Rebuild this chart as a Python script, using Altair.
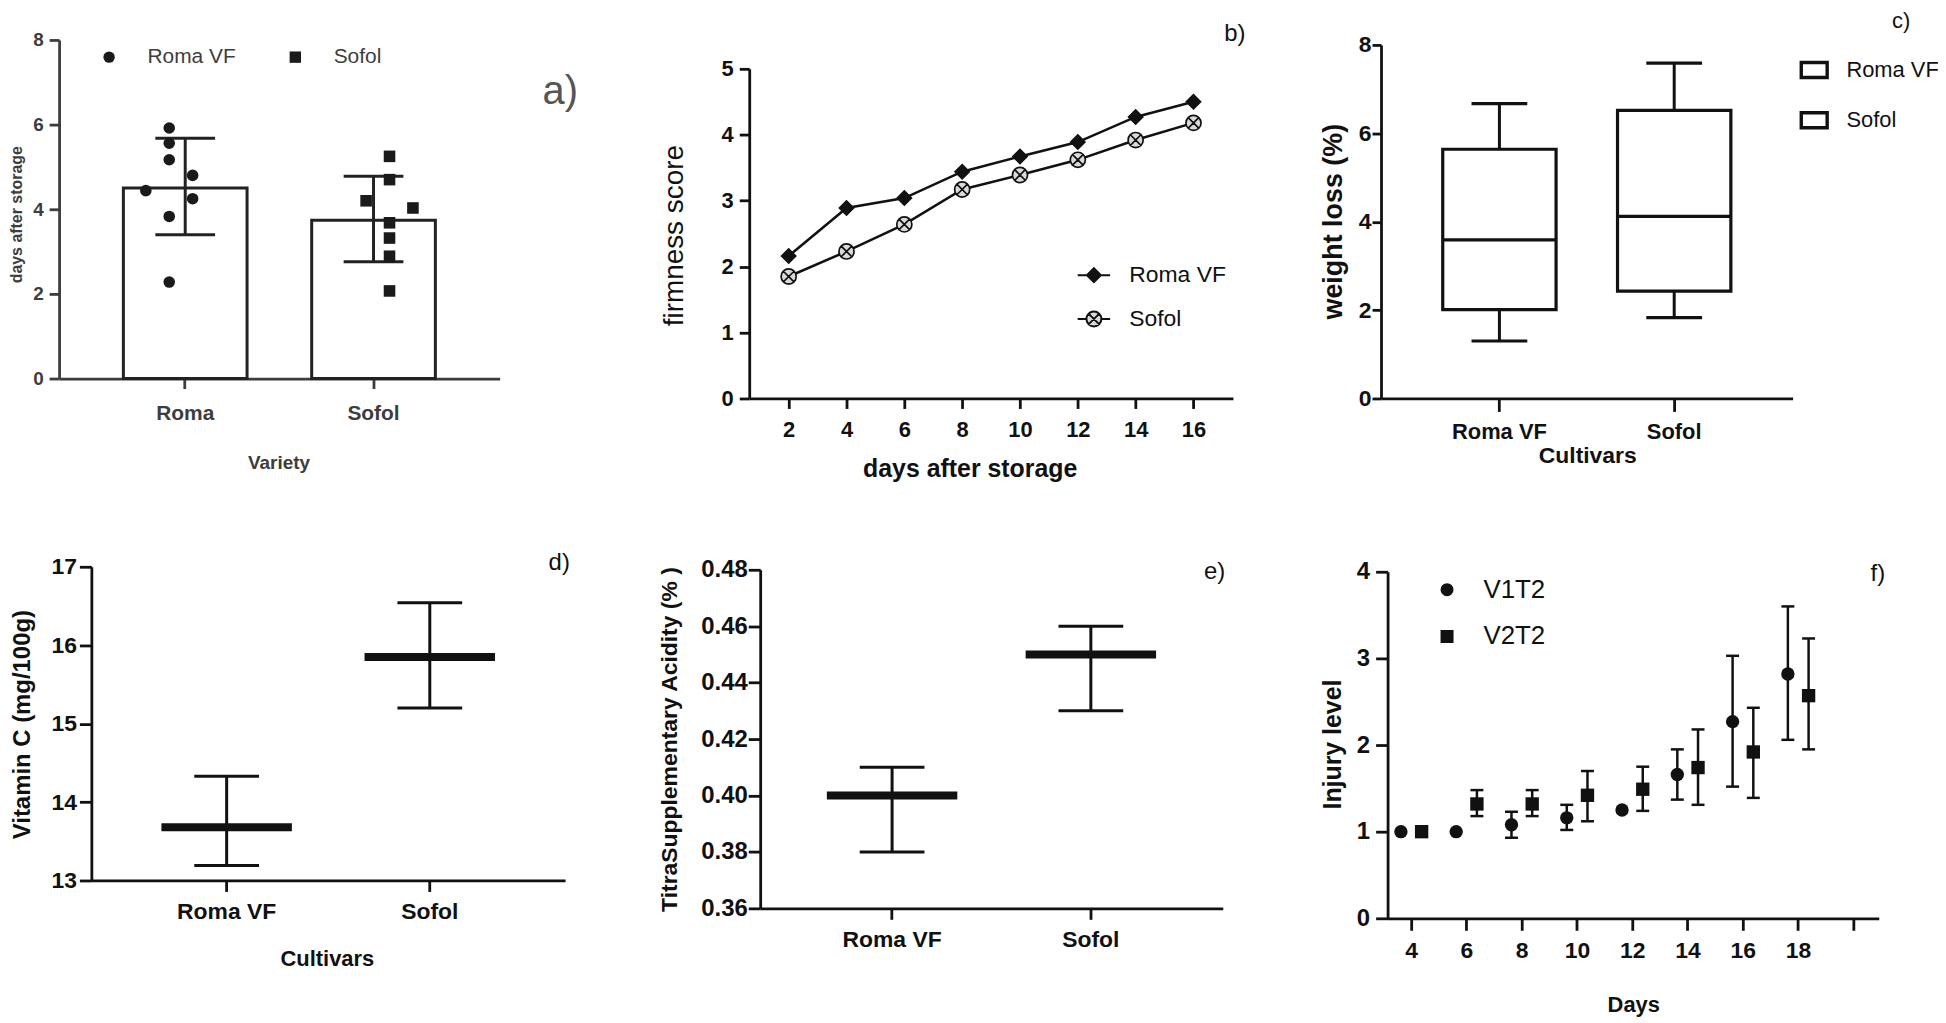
import altair as alt
import pandas as pd

# ---------------- data ----------------
# a) days after storage (bar = mean, error = SD, dots = replicates)
a_variety = ["Roma", "Sofol"]
a_mean = [4.50, 3.74]
a_lo = [3.40, 2.76]
a_hi = [5.68, 4.78]
a_roma_pts = [5.92, 5.56, 5.17, 4.80, 4.44, 4.25, 3.83, 2.28]
a_roma_jit = [0, 0, 0, 1, -1, 1, 0, 0]
a_sofol_pts = [5.25, 4.70, 4.20, 4.03, 3.68, 3.32, 2.89, 2.07]
a_sofol_jit = [0, 0, -1, 1, 0, 0, 0, 0]

# b) firmness score
b_days = [2, 4, 6, 8, 10, 12, 14, 16]
b_roma = [2.16, 2.89, 3.04, 3.44, 3.67, 3.89, 4.27, 4.50]
b_sofol = [1.85, 2.23, 2.64, 3.17, 3.39, 3.62, 3.92, 4.18]

# c) weight loss box plot
c_cult = ["Roma VF", "Sofol"]
c_min = [1.30, 1.83]
c_q1 = [2.01, 2.43]
c_med = [3.59, 4.12]
c_q3 = [5.64, 6.52]
c_max = [6.67, 7.59]

# d) vitamin C
d_cult = ["Roma VF", "Sofol"]
d_mean = [13.68, 15.85]
d_lo = [13.19, 15.20]
d_hi = [14.33, 16.54]

# e) titratable acidity
e_cult = ["Roma VF", "Sofol"]
e_mean = [0.40, 0.45]
e_lo = [0.38, 0.43]
e_hi = [0.41, 0.46]

# f) injury level
f_days = [4, 6, 8, 10, 12, 14, 16, 18]
f_v1 = [1.00, 1.00, 1.08, 1.16, 1.25, 1.66, 2.27, 2.82]
f_v1_lo = [None, None, 0.93, 1.02, None, 1.37, 1.52, 2.06]
f_v1_hi = [None, None, 1.23, 1.31, None, 1.95, 3.03, 3.60]
f_v2 = [1.00, 1.32, 1.32, 1.42, 1.49, 1.74, 1.92, 2.57]
f_v2_lo = [None, 1.18, 1.18, 1.12, 1.24, 1.31, 1.39, 1.95]
f_v2_hi = [None, 1.48, 1.48, 1.70, 1.75, 2.18, 2.43, 3.23]

# ---------------- layout ----------------
W, H = 1938, 1010
SANS = "Liberation Sans, Arial, sans-serif"
INK = "#111111"
GRAY = "#3d3d3d"


def y_axis(x_px, title, tx, ty, values, label_size, title_size, color=INK,
           title_weight="bold", fmt=None, tick=10, pad=4):
    kw = dict(orient="left", offset=-x_px, values=values, labelFontSize=label_size,
              labelFont=SANS, labelColor=color, labelFontWeight="bold", labelPadding=pad,
              tickSize=tick, tickColor=color, domainColor=color, grid=False,
              title=title, titleX=tx, titleY=ty, titleAngle=270, titleAlign="center",
              titleBaseline="middle", titleFontSize=title_size,
              titleFont=SANS, titleColor=color, titleFontWeight=title_weight)
    if fmt:
        kw["format"] = fmt
    return alt.Axis(**kw)


def x_axis(y_px, title, tx, ty, label_size, title_size, color=INK, values=None,
           label_expr=None, tick=10, pad=8):
    kw = dict(orient="bottom", offset=y_px - H, labelFontSize=label_size, labelFont=SANS,
              labelColor=color, labelFontWeight="bold", labelPadding=pad, labelAngle=0,
              tickSize=tick, tickColor=color, domainColor=color, grid=False)
    if values is not None:
        kw["values"] = values
    if label_expr:
        kw["labelExpr"] = label_expr
    if title is None:
        kw["title"] = None
    else:
        kw.update(title=title, titleX=tx, titleY=ty, titleAlign="center",
                  titleBaseline="middle", titleFontSize=title_size, titleFont=SANS,
                  titleColor=color, titleFontWeight="bold")
    return alt.Axis(**kw)


layers = []

# ---------------- panel a ----------------
a_df = pd.DataFrame({"variety": a_variety, "mean": a_mean, "lo": a_lo, "hi": a_hi})
a_pts = pd.DataFrame({
    "variety": ["Roma"] * len(a_roma_pts) + ["Sofol"] * len(a_sofol_pts),
    "value": a_roma_pts + a_sofol_pts,
    "jit": a_roma_jit + a_sofol_jit,
})
a_xs = alt.Scale(domain=a_variety, range=[51.3, 493.7], paddingInner=0.3432, paddingOuter=0.3414)
a_ys = alt.Scale(domain=[0, 8], range=[370, 30], nice=False, zero=False)
a_x = alt.X("variety:N", scale=a_xs, sort=a_variety, axis=None)
layers.append(alt.Chart(a_df).mark_bar(fill="white", stroke="#222", strokeWidth=3).encode(
    x=alt.X("variety:N", scale=a_xs, sort=a_variety,
            axis=x_axis(370, "Variety", 271.6, 84, 21, 19, color=GRAY, pad=14)),
    y=alt.Y("mean:Q", scale=a_ys,
            axis=y_axis(51.3, "days after storage", -42.3, 205, [0, 2, 4, 6, 8], 19, 16,
                        color=GRAY, pad=6)),
))
layers.append(alt.Chart(a_df).mark_rule(color="#222", strokeWidth=3).encode(
    x=a_x, y=alt.Y("lo:Q", scale=a_ys, axis=None), y2="hi:Q"))
for col in ["lo", "hi"]:
    layers.append(alt.Chart(a_df).mark_tick(color="#222", thickness=3, size=60, opacity=1,
                                            orient="horizontal").encode(
        x=a_x, y=alt.Y(f"{col}:Q", scale=a_ys, axis=None)))
a_shape_scale = alt.Scale(domain=a_variety, range=["circle", "square"])
for j in [0, -1, 1]:
    shape_enc = alt.Shape("variety:N", scale=a_shape_scale, legend=None)
    if j == 0:
        shape_enc = alt.Shape(
            "variety:N", scale=a_shape_scale,
            legend=alt.Legend(orient="none", legendX=91, legendY=36.5, direction="horizontal",
                              title=None, labelFontSize=21, labelFont=SANS, labelColor=GRAY,
                              labelOffset=28, columnPadding=49, padding=0, symbolSize=130,
                              labelExpr="datum.label == 'Roma' ? 'Roma VF' : datum.label"))
    layers.append(alt.Chart(a_pts).transform_filter(alt.datum.jit == j).mark_point(
        filled=True, size=135, opacity=1, color="#1a1a1a", xOffset=23.5 * j).encode(
        x=a_x, y=alt.Y("value:Q", scale=a_ys, axis=None), shape=shape_enc))

# ---------------- panel b ----------------
b_series = ["Roma VF", "Sofol"]
b_df = pd.DataFrame({
    "day": b_days * 2,
    "score": b_roma + b_sofol,
    "series": [b_series[0]] * len(b_days) + [b_series[1]] * len(b_days),
})
b_xs = alt.Scale(domain=[0.636, 17.364], range=[744.3, 1230], nice=False, zero=False)
b_ys = alt.Scale(domain=[0, 5], range=[390, 59], nice=False, zero=False)
CIRCX = "M-1,0A1,1,0,1,0,1,0A1,1,0,1,0,-1,0ZM-0.7,-0.7L0.7,0.7M-0.7,0.7L0.7,-0.7"
LEG_DIAMOND = "M-1,0L1,0M0,-0.43L0.43,0L0,0.43L-0.43,0Z"
LEG_CIRCX = ("M-1,0L-0.46,0M0.46,0L1,0M-0.46,0A0.46,0.46,0,1,0,0.46,0A0.46,0.46,0,1,0,-0.46,0Z"
             "M-0.33,-0.33L0.33,0.33M-0.33,0.33L0.33,-0.33")
layers.append(alt.Chart(b_df).mark_line(color=INK, strokeWidth=2.5).encode(
    x=alt.X("day:Q", scale=b_xs,
            axis=x_axis(390, "days after storage", 965.7, 70, 22, 25,
                        values=[2, 4, 6, 8, 10, 12, 14, 16], pad=11)),
    y=alt.Y("score:Q", scale=b_ys,
            axis=y_axis(744.3, "firmness score", -75, 226, [0, 1, 2, 3, 4, 5], 22, 28,
                        title_weight="normal", pad=6)),
    detail="series:N",
))
layers.append(alt.Chart(b_df).transform_filter(alt.datum.series == b_series[0]).mark_point(
    shape="diamond", filled=True, fill=INK, stroke=INK, strokeWidth=1.5, size=210, opacity=1).encode(
    x=alt.X("day:Q", scale=b_xs, axis=None), y=alt.Y("score:Q", scale=b_ys, axis=None)))
layers.append(alt.Chart(b_df).transform_filter(alt.datum.series == b_series[1]).mark_point(
    shape=CIRCX, filled=True, fill="#dadada", stroke=INK, strokeWidth=1.7, size=230, opacity=1).encode(
    x=alt.X("day:Q", scale=b_xs, axis=None), y=alt.Y("score:Q", scale=b_ys, axis=None)))
for name, path, fill, ly in [(b_series[0], LEG_DIAMOND, INK, 248.7),
                             (b_series[1], LEG_CIRCX, "#dadada", 292.7)]:
    layers.append(alt.Chart(pd.DataFrame({"series": [name]})).transform_filter("false").mark_point(
        filled=True, fill=fill, stroke=INK, strokeWidth=2, opacity=1).encode(
        shape=alt.Shape("series:N", scale=alt.Scale(domain=[name], range=[path]),
                        legend=alt.Legend(orient="none", legendX=1072.9, legendY=ly, title=None,
                                          labelFontSize=23, labelFont=SANS, labelColor=INK,
                                          labelOffset=18, padding=0, symbolSize=1063,
                                          symbolStrokeWidth=2))))

# ---------------- panel c ----------------
c_df = pd.DataFrame({"cult": c_cult, "mn": c_min, "q1": c_q1, "med": c_med, "q3": c_q3, "mx": c_max})
c_xs = alt.Scale(domain=c_cult, range=[1378.7, 1792], paddingInner=0.3515, paddingOuter=0.3532)
c_ys = alt.Scale(domain=[0, 8], range=[390, 35], nice=False, zero=False)
c_x = alt.X("cult:N", scale=c_xs, sort=c_cult, axis=None)
layers.append(alt.Chart(c_df).mark_rule(color=INK, strokeWidth=3).encode(
    x=alt.X("cult:N", scale=c_xs, sort=c_cult,
            axis=x_axis(390, "Cultivars", 1585.8, 57, 22, 23, tick=13, pad=10)),
    y=alt.Y("mn:Q", scale=c_ys,
            axis=y_axis(1378.7, "weight loss (%)", -48, 212, [0, 2, 4, 6, 8], 23, 27,
                        tick=9, pad=1)),
    y2="mx:Q"))
layers.append(alt.Chart(c_df).mark_bar(stroke=INK, strokeWidth=3.2).encode(
    x=c_x, y=alt.Y("q1:Q", scale=c_ys, axis=None), y2="q3:Q",
    fill=alt.Fill("cult:N", scale=alt.Scale(domain=c_cult, range=["white", "white"]),
                  legend=alt.Legend(orient="none", legendX=1798.7, legendY=45.2, title=None,
                                    labelFontSize=22, labelFont=SANS, labelColor=INK,
                                    labelOffset=17.3, rowPadding=20.4, padding=0,
                                    symbolType="M-1,-0.58H1V0.58H-1Z", symbolSize=676,
                                    symbolStrokeColor=INK, symbolStrokeWidth=3.4)),
))
for col, w in [("med", 114.4), ("mn", 56), ("mx", 56)]:
    layers.append(alt.Chart(c_df).mark_tick(color=INK, thickness=3.2, size=w, opacity=1,
                                            orient="horizontal").encode(
        x=c_x, y=alt.Y(f"{col}:Q", scale=c_ys, axis=None)))


# ---------------- panels d and e (mean +- error) ----------------
def mean_err_layers(cats, mean, lo, hi, xs, ys, xax, yax, mean_w, cap_w):
    df = pd.DataFrame({"cult": cats, "mean": mean, "lo": lo, "hi": hi})
    xx = alt.X("cult:N", scale=xs, sort=cats, axis=None)
    out = [alt.Chart(df).mark_rule(color=INK, strokeWidth=3).encode(
        x=alt.X("cult:N", scale=xs, sort=cats, axis=xax),
        y=alt.Y("lo:Q", scale=ys, axis=yax), y2="hi:Q")]
    for col, w, th in [("lo", cap_w, 3), ("hi", cap_w, 3), ("mean", mean_w, 8)]:
        out.append(alt.Chart(df).mark_tick(color=INK, thickness=th, size=w, opacity=1,
                                           orient="horizontal").encode(
            x=xx, y=alt.Y(f"{col}:Q", scale=ys, axis=None)))
    return out


d_xs = alt.Scale(domain=d_cult, range=[83.7, 559.4], paddingInner=0, paddingOuter=0.166)
d_ys = alt.Scale(domain=[13, 17], range=[874, 559], nice=False, zero=False)
layers += mean_err_layers(
    d_cult, d_mean, d_lo, d_hi, d_xs, d_ys,
    x_axis(874, "Cultivars", 320.2, 78, 23, 22, tick=11, pad=9),
    y_axis(83.7, "Vitamin C (mg/100g)", -68.7, 717, [13, 14, 15, 16, 17], 23, 24,
           tick=12, pad=3),
    131, 65)

e_xs = alt.Scale(domain=e_cult, range=[755.3, 1219.8], paddingInner=0, paddingOuter=0.1636)
e_ys = alt.Scale(domain=[0.36, 0.48], range=[902, 562], nice=False, zero=False)
layers += mean_err_layers(
    e_cult, e_mean, e_lo, e_hi, e_xs, e_ys,
    x_axis(902, None, 0, 0, 23, 20, tick=11, pad=9),
    y_axis(755.3, "TitraSupplementary  Acidity (% )", -90.7, 732,
           [0.36, 0.38, 0.40, 0.42, 0.44, 0.46, 0.48], 24, 23, fmt=".2f", tick=12, pad=1),
    131, 65)

# ---------------- panel f ----------------
f_df = pd.DataFrame({
    "day": f_days * 2,
    "level": f_v1 + f_v2,
    "lo": f_v1_lo + f_v2_lo,
    "hi": f_v1_hi + f_v2_hi,
    "series": ["V1T2"] * len(f_days) + ["V2T2"] * len(f_days),
})
f_xs = alt.Scale(domain=[3.15, 20.92], range=[1385.3, 1878.5], nice=False, zero=False)
f_ys = alt.Scale(domain=[0, 4], range=[912, 564], nice=False, zero=False)
f_shape_scale = alt.Scale(domain=["V1T2", "V2T2"], range=["circle", "square"])
for i, (ser, off) in enumerate([("V1T2", -10.2), ("V2T2", 10.6)]):
    base = alt.Chart(f_df).transform_filter(alt.datum.series == ser)
    if i == 0:
        xx = alt.X("day:Q", scale=f_xs,
                   axis=x_axis(912, "Days", 1632, 87, 23, 22,
                               values=[4, 6, 8, 10, 12, 14, 16, 18, 20],
                               label_expr="datum.value == 20 ? '' : datum.label",
                               tick=12, pad=9))
        yy = alt.Y("level:Q", scale=f_ys,
                   axis=y_axis(1385.3, "Injury level", -55.3, 737, [0, 1, 2, 3, 4], 24, 25,
                               tick=12, pad=6))
        shape_enc = alt.Shape("series:N", scale=f_shape_scale,
                              legend=alt.Legend(orient="none", legendX=1432, legendY=569, title=None,
                                                labelFontSize=26, labelFont=SANS, labelColor=INK,
                                                labelOffset=23.5, rowPadding=21, padding=0,
                                                symbolSize=170))
    else:
        xx = alt.X("day:Q", scale=f_xs, axis=None)
        yy = alt.Y("level:Q", scale=f_ys, axis=None)
        shape_enc = alt.Shape("series:N", scale=f_shape_scale, legend=None)
    layers.append(base.mark_point(filled=True, size=180, opacity=1, color=INK, xOffset=off).encode(
        x=xx, y=yy, shape=shape_enc))
    ebase = base.transform_filter("isValid(datum.lo)")
    xe = alt.X("day:Q", scale=f_xs, axis=None)
    layers.append(ebase.mark_rule(color=INK, strokeWidth=2.5, xOffset=off).encode(
        x=xe, y=alt.Y("lo:Q", scale=f_ys, axis=None), y2="hi:Q"))
    for col in ["lo", "hi"]:
        layers.append(ebase.mark_tick(color=INK, thickness=2.5, size=13, opacity=1,
                                      orient="horizontal", xOffset=off).encode(
            x=xe, y=alt.Y(f"{col}:Q", scale=f_ys, axis=None)))

# ---------------- panel letters ----------------
letters = [("a)", 554.6, 82, 40, "#555555"), ("b)", 1232, 24, 24, INK), ("c)", 1901, 11, 22, INK),
           ("d)", 553.5, 555, 24, INK), ("e)", 1211.6, 564, 24, INK), ("f)", 1877.6, 566, 24, INK)]
for t, x, y, fs, col in letters:
    layers.append(alt.Chart(alt.Data(values=[{}])).mark_text(
        text=t, fontSize=fs, color=col, font=SANS, align="center", baseline="middle").encode(
        x=alt.value(x), y=alt.value(y)))

chart = alt.layer(*layers).resolve_scale(
    x="independent", y="independent", shape="independent", fill="independent"
).resolve_axis(
    x="independent", y="independent"
).resolve_legend(
    shape="independent", fill="independent"
).properties(
    width=W, height=H, padding=0, autosize=alt.AutoSizeParams(type="none"),
    background="white",
).configure_view(
    strokeWidth=0
).configure_axis(
    domainWidth=2.8, tickWidth=2.8, grid=False
)

chart.save("out.html", embed_options={"renderer": "svg", "actions": False})
